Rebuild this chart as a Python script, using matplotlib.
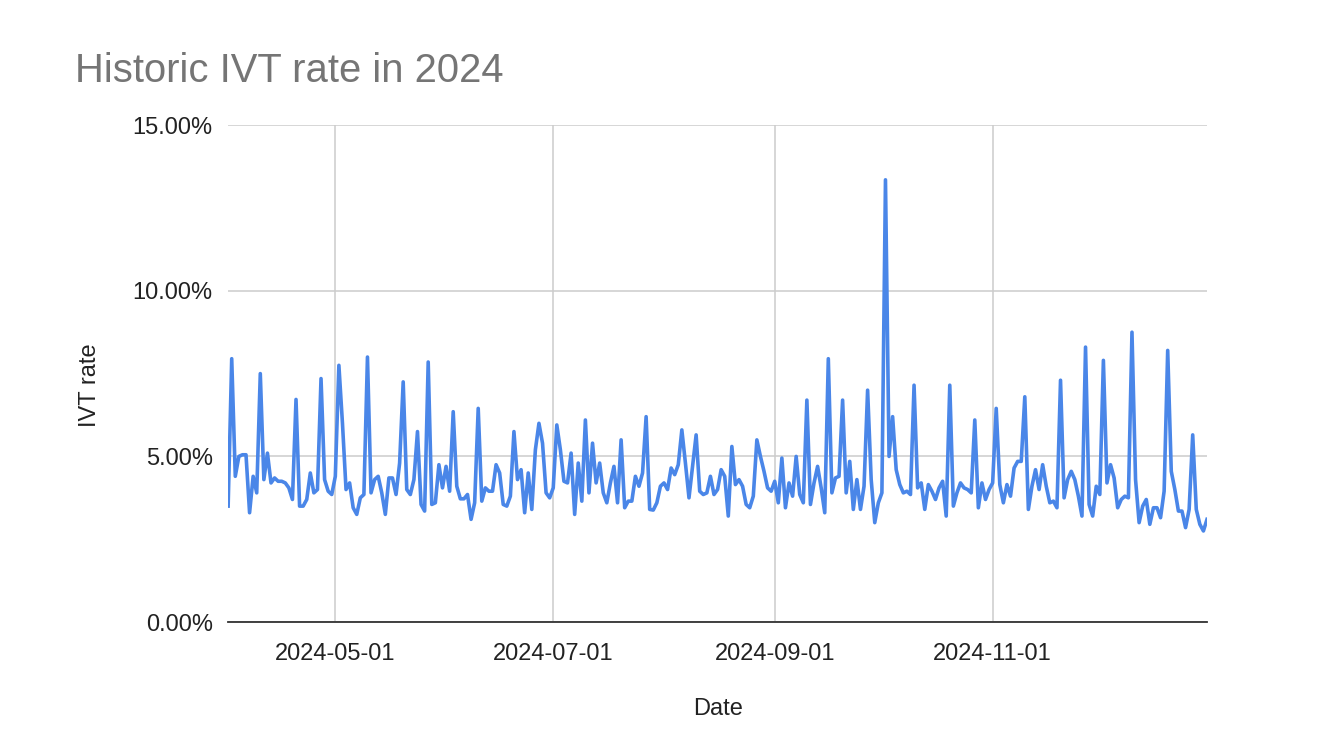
import numpy as np
import matplotlib
matplotlib.use("Agg")
import matplotlib.pyplot as plt
import matplotlib.dates as mdates
from matplotlib.ticker import FuncFormatter, FixedLocator

plt.rcParams["font.family"] = ["Liberation Sans", "DejaVu Sans"]

# daily IVT rate (%), 2024-04-01 .. 2024-12-31
start_date = "2024-04-01"
end_date = "2024-12-31"
ivt_rate = [
    3.5, 7.95, 4.4, 5.0, 5.05, 5.05, 3.3, 4.4, 3.9, 7.5,
    4.3, 5.1, 4.2, 4.35, 4.25, 4.25, 4.2, 4.05, 3.7, 6.72,
    3.5, 3.5, 3.7, 4.5, 3.9, 4.0, 7.35, 4.3, 3.95, 3.85,
    4.4, 7.75, 6.0, 4.0, 4.2, 3.45, 3.25, 3.75, 3.85, 8.0,
    3.9, 4.3, 4.4, 3.9, 3.25, 4.35, 4.35, 3.85, 4.8, 7.25,
    4.0, 3.85, 4.3, 5.75, 3.55, 3.35, 7.85, 3.55, 3.6, 4.75,
    4.05, 4.7, 3.95, 6.35, 4.1, 3.72, 3.72, 3.85, 3.1, 3.6,
    6.45, 3.65, 4.05, 3.95, 3.95, 4.75, 4.5, 3.55, 3.5, 3.8,
    5.75, 4.3, 4.6, 3.3, 4.5, 3.4, 5.2, 6.0, 5.4, 3.9,
    3.75, 4.05, 5.95, 5.2, 4.25, 4.2, 5.1, 3.25, 4.8, 3.65,
    6.1, 3.9, 5.4, 4.2, 4.8, 3.9, 3.6, 4.2, 4.7, 3.6,
    5.5, 3.45, 3.65, 3.65, 4.4, 4.1, 4.5, 6.2, 3.4, 3.38,
    3.6, 4.1, 4.2, 4.0, 4.65, 4.45, 4.75, 5.8, 4.8, 3.75,
    4.7, 5.65, 3.95, 3.85, 3.9, 4.4, 3.85, 4.0, 4.6, 4.4,
    3.2, 5.3, 4.15, 4.3, 4.1, 3.55, 3.45, 3.8, 5.5, 5.0,
    4.55, 4.05, 3.95, 4.25, 3.6, 4.95, 3.45, 4.2, 3.8, 5.0,
    3.85, 3.6, 6.7, 3.55, 4.2, 4.7, 4.05, 3.3, 7.95, 3.9,
    4.35, 4.4, 6.7, 3.9, 4.85, 3.4, 4.3, 3.4, 4.1, 7.0,
    4.3, 3.0, 3.6, 3.9, 13.35, 5.0, 6.2, 4.6, 4.15, 3.9,
    3.95, 3.85, 7.15, 4.05, 4.2, 3.4, 4.15, 3.95, 3.7, 4.05,
    4.25, 3.2, 7.15, 3.5, 3.9, 4.2, 4.05, 4.0, 3.9, 6.1,
    3.45, 4.2, 3.7, 4.0, 4.2, 6.45, 4.15, 3.6, 4.15, 3.8,
    4.65, 4.85, 4.85, 6.8, 3.4, 4.1, 4.6, 4.0, 4.75, 4.1,
    3.6, 3.65, 3.45, 7.3, 3.75, 4.3, 4.55, 4.3, 3.8, 3.2,
    8.3, 3.55, 3.2, 4.1, 3.85, 7.9, 4.2, 4.75, 4.35, 3.45,
    3.7, 3.8, 3.75, 8.75, 4.3, 3.0, 3.5, 3.7, 2.95, 3.45,
    3.45, 3.15, 3.95, 8.2, 4.55, 4.0, 3.35, 3.35, 2.85, 3.4,
    5.65, 3.4, 2.95, 2.75, 3.1,
]
x_ticks = ["2024-05-01", "2024-07-01", "2024-09-01", "2024-11-01"]
y_ticks = [0, 5, 10, 15]

dates = np.arange(np.datetime64(start_date), np.datetime64(end_date) + 1)

fig = plt.figure(figsize=(13.42, 7.54), dpi=100)
ax = fig.add_axes([0.170, 0.175, 0.7294, 0.659])

ax.plot(dates, ivt_rate, color="#4a86e8", lw=2.6, zorder=3, solid_joinstyle="round")

ax.set_xlim(dates[0], dates[-1])
ax.set_ylim(0, 15)
ax.yaxis.set_major_locator(FixedLocator(y_ticks))
ax.yaxis.set_major_formatter(FuncFormatter(lambda v, p: f"{v:.2f}%"))
ax.xaxis.set_major_locator(FixedLocator([mdates.date2num(np.datetime64(d)) for d in x_ticks]))
ax.xaxis.set_major_formatter(mdates.DateFormatter("%Y-%m-%d"))

ax.grid(True, color="#cccccc", lw=1.1, zorder=0)
for s in ["top", "right", "left"]:
    ax.spines[s].set_visible(False)
ax.spines["bottom"].set_color("#333333")
ax.spines["bottom"].set_linewidth(1.3)
ax.spines["bottom"].set_zorder(4)
ax.tick_params(length=0, labelsize=17, colors="#222222")
ax.tick_params(axis="y", pad=11)
ax.tick_params(axis="x", pad=15)

ax.set_ylabel("IVT rate", fontsize=17, color="#222222", labelpad=23, y=0.477)
ax.set_xlabel("Date", fontsize=17, color="#222222", labelpad=24)

fig.text(75 / 1342, 1 - 82 / 754, "Historic IVT rate in 2024", fontsize=28.8,
         color="#757575", ha="left", va="baseline")

fig.savefig("out.png", dpi=100)
